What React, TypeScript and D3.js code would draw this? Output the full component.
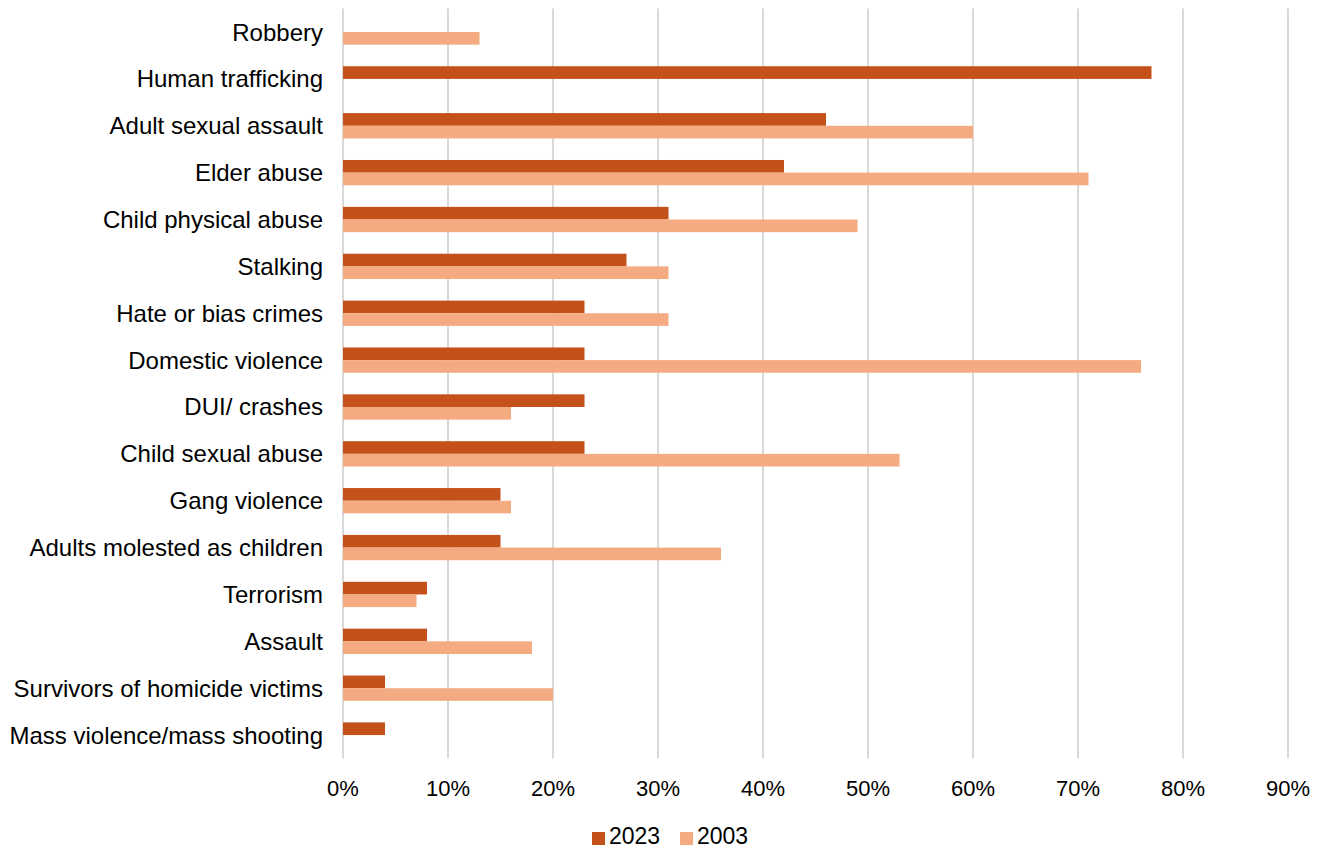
import React from "react";
import * as d3 from "d3";

const categories = [
  "Robbery",
  "Human trafficking",
  "Adult sexual assault",
  "Elder abuse",
  "Child physical abuse",
  "Stalking",
  "Hate or bias crimes",
  "Domestic violence",
  "DUI/ crashes",
  "Child sexual abuse",
  "Gang violence",
  "Adults molested as children",
  "Terrorism",
  "Assault",
  "Survivors of homicide victims",
  "Mass violence/mass shooting",
];
const values2023: (number | null)[] = [null, 77, 46, 42, 31, 27, 23, 23, 23, 23, 15, 15, 8, 8, 4, 4];
const values2003: (number | null)[] = [13, null, 60, 71, 49, 31, 31, 76, 16, 53, 16, 36, 7, 18, 20, null];
const xTicks = [0, 10, 20, 30, 40, 50, 60, 70, 80, 90];
const seriesNames = ["2023", "2003"];

const W = 1322;
const H = 848;
const left = 343;
const right = 1288;
const top = 8.6;
const bottom = 758.5;
const C2023 = "#C4501A";
const C2003 = "#F4AB82";
const font = "'Liberation Sans', Arial, sans-serif";

export default function App() {
  const x = d3.scaleLinear().domain([0, 90]).range([left, right]);
  const y = d3.scaleBand().domain(categories).range([top, bottom]).paddingInner(0.46).paddingOuter(0.23);
  const sub = d3.scaleBand().domain(seriesNames).range([0, y.bandwidth()]);
  const series = [values2023, values2003];
  const colors = [C2023, C2003];
  return (
    <svg width={W} height={H} style={{ position: "absolute", left: 0, top: 0, background: "#fff" }} fontFamily={font}>
      {xTicks.map((t) => (
        <line key={t} x1={x(t)} x2={x(t)} y1={top} y2={bottom} stroke="#d9d9d9" strokeWidth={2} />
      ))}
      {categories.map((c, i) => (
        <g key={c}>
          {series.map((vals, si) => {
            const v = vals[i];
            if (v == null) return null;
            return (
              <rect
                key={si}
                x={x(0)}
                y={(y(c) as number) + (sub(seriesNames[si]) as number)}
                width={x(v) - x(0)}
                height={sub.bandwidth()}
                fill={colors[si]}
              />
            );
          })}
          <text
            x={323}
            y={(y(c) as number) + y.bandwidth() / 2}
            textAnchor="end"
            dominantBaseline="central"
            fontSize={24}
            fill="#000"
          >
            {c}
          </text>
        </g>
      ))}
      {xTicks.map((t) => (
        <text key={t} x={x(t)} y={788} textAnchor="middle" dominantBaseline="central" fontSize={22} fill="#000">
          {t}%
        </text>
      ))}
      <g>
        <rect x={592} y={832} width={13} height={13} fill={C2023} />
        <text x={609} y={836} dominantBaseline="central" fontSize={23} fill="#000">2023</text>
        <rect x={680} y={832} width={13} height={13} fill={C2003} />
        <text x={697} y={836} dominantBaseline="central" fontSize={23} fill="#000">2003</text>
      </g>
    </svg>
  );
}
